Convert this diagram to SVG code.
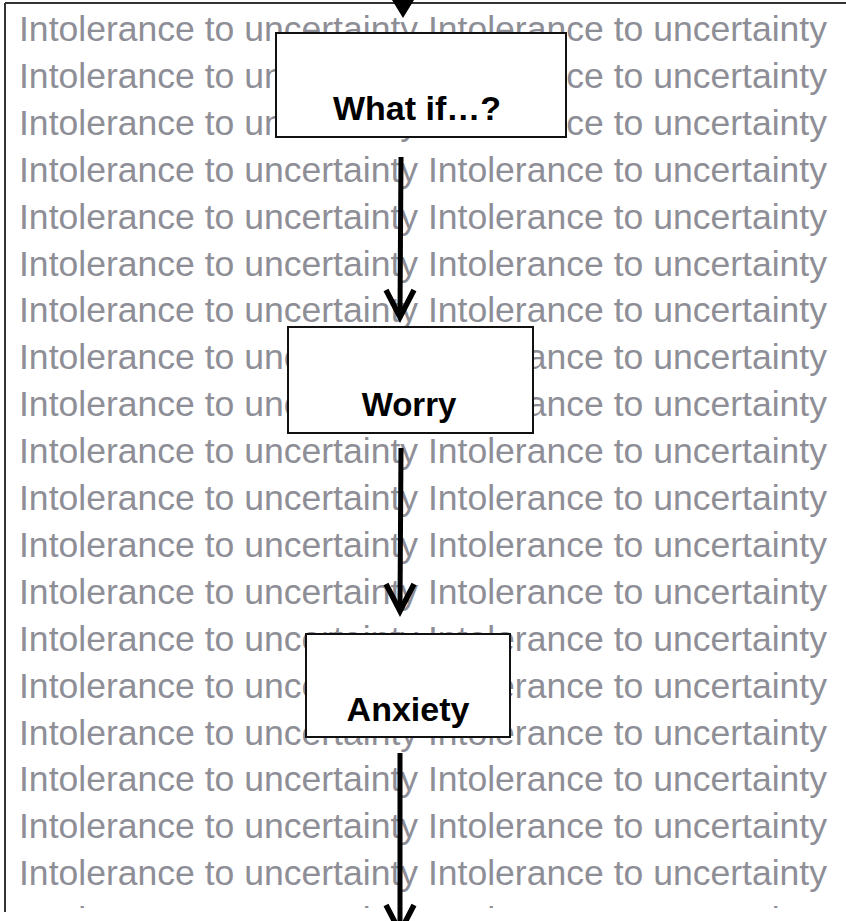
<svg xmlns="http://www.w3.org/2000/svg" width="846" height="921" viewBox="0 0 846 921">
  <style>
    .bg { font-family: "Liberation Sans", Arial, sans-serif; font-size: 35.5px; fill: #8e8e97; }
    .box { fill: #ffffff; stroke: #111111; stroke-width: 2; }
    .lbl { font-family: "Liberation Sans", Arial, sans-serif; font-size: 34px; font-weight: bold; fill: #000000; text-anchor: middle; }
    .frame { stroke: #333333; stroke-width: 2; fill: none; }
    .shaft { stroke: #000000; stroke-width: 5; fill: none; }
    .head { stroke: #000000; stroke-width: 5.5; fill: none; stroke-linejoin: miter; }
  </style>
  <defs>
    <clipPath id="textArea">
      <rect x="6" y="4" width="840" height="904"/>
    </clipPath>
    <text id="row" class="bg" x="19" textLength="808" lengthAdjust="spacingAndGlyphs">Intolerance to uncertainty Intolerance to uncertainty</text>
  </defs>

  <rect width="846" height="921" fill="#ffffff"/>

  <!-- repeated background phrase -->
  <g id="background" clip-path="url(#textArea)">
    <use href="#row" y="41"/>
    <use href="#row" y="87.9"/>
    <use href="#row" y="134.8"/>
    <use href="#row" y="181.7"/>
    <use href="#row" y="228.6"/>
    <use href="#row" y="275.5"/>
    <use href="#row" y="322.4"/>
    <use href="#row" y="369.3"/>
    <use href="#row" y="416.2"/>
    <use href="#row" y="463.1"/>
    <use href="#row" y="510"/>
    <use href="#row" y="556.9"/>
    <use href="#row" y="603.8"/>
    <use href="#row" y="650.7"/>
    <use href="#row" y="697.6"/>
    <use href="#row" y="744.5"/>
    <use href="#row" y="791.4"/>
    <use href="#row" y="838.3"/>
    <use href="#row" y="885.2"/>
    <use href="#row" y="932.1"/>
  </g>

  <!-- enclosing frame -->
  <g id="frame">
    <line class="frame" x1="5" y1="3" x2="846" y2="3"/>
    <line class="frame" x1="5" y1="3" x2="5" y2="912"/>
  </g>

  <!-- connectors -->
  <g id="connectors">
    <polygon points="392,0 414,0 403,18" fill="#000000"/>
    <line class="shaft" x1="401" y1="157" x2="400" y2="314"/>
    <polyline class="head" points="386,290 400,317 414,290"/>
    <line class="shaft" x1="401" y1="448" x2="400" y2="608"/>
    <polyline class="head" points="386,584 400,611 414,584"/>
    <line class="shaft" x1="400" y1="753" x2="400" y2="921"/>
    <polyline class="head" points="386,905 400,932 414,905"/>
  </g>

  <g id="node-whatif">
    <rect class="box" x="276" y="33" width="290" height="104"/>
    <text class="lbl" x="417" y="120">What if…?</text>
  </g>

  <g id="node-worry">
    <rect class="box" x="288" y="327" width="245" height="106"/>
    <text class="lbl" x="409" y="416" style="font-size:33px">Worry</text>
  </g>

  <g id="node-anxiety">
    <rect class="box" x="306" y="634" width="204" height="103"/>
    <text class="lbl" x="408" y="721">Anxiety</text>
  </g>
</svg>
